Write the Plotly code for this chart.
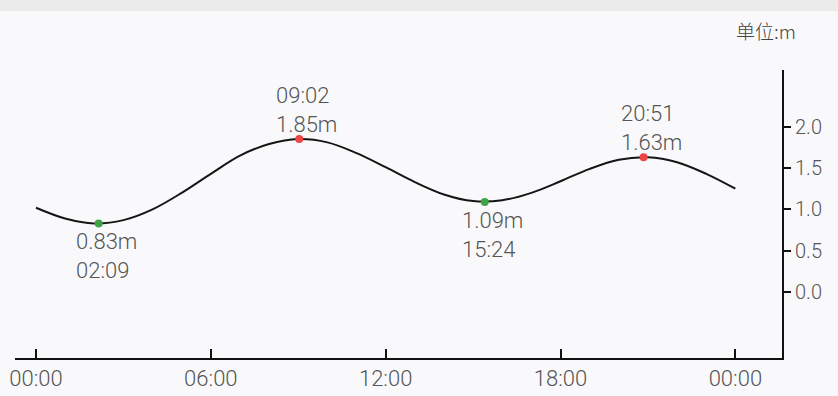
import plotly.graph_objects as go

# hourly tide heights (m)
hours = [0, 1, 2, 3, 4, 5, 6, 7, 8, 9, 10, 11, 12, 13, 14, 15, 16, 17, 18, 19, 20, 21, 22, 23, 24]
heights = [1.02, 0.89, 0.83, 0.87, 1.00, 1.20, 1.43, 1.65, 1.79, 1.85, 1.81, 1.68, 1.51, 1.33, 1.18, 1.10,
           1.11, 1.20, 1.34, 1.49, 1.60, 1.63, 1.57, 1.43, 1.25]

# extrema
low_times = [2 + 9 / 60, 15 + 24 / 60]
low_vals = [0.83, 1.09]
low_labels = ["02:09", "15:24"]
high_times = [9 + 2 / 60, 20 + 51 / 60]
high_vals = [1.85, 1.63]
high_labels = ["09:02", "20:51"]

x_ticks = [0, 6, 12, 18, 24]
x_tick_text = ["00:00", "06:00", "12:00", "18:00", "00:00"]
y_ticks = [0.0, 0.5, 1.0, 1.5, 2.0]
y_tick_text = ["0.0", "0.5", "1.0", "1.5", "2.0"]

FONT = "Roboto"
TXT = "#555555"

L, R, T, B = 15, 56, 70, 38
W, H = 838, 396
pw, ph = W - L - R, H - T - B

fig = go.Figure()
fig.add_trace(go.Scatter(x=hours, y=heights, mode="lines",
                         line=dict(color="#151515", width=2, shape="spline", smoothing=1.0),
                         hoverinfo="skip", showlegend=False))
fig.add_trace(go.Scatter(x=low_times, y=low_vals, mode="markers",
                         marker=dict(color="#3fa544", size=8), showlegend=False))
fig.add_trace(go.Scatter(x=high_times, y=high_vals, mode="markers",
                         marker=dict(color="#ee4444", size=8), showlegend=False))

annotations = []
for t, v, lab in zip(high_times, high_vals, high_labels):
    annotations.append(dict(x=t, y=v, xref="x", yref="y", text=f"{lab}<br>{v:.2f}m",
                            showarrow=False, xanchor="left", yanchor="bottom", align="left",
                            xshift=-25, yshift=0, font=dict(family=FONT, size=22, color=TXT, weight=300)))
for t, v, lab in zip(low_times, low_vals, low_labels):
    annotations.append(dict(x=t, y=v, xref="x", yref="y", text=f"{v:.2f}m<br>{lab}",
                            showarrow=False, xanchor="left", yanchor="top", align="left",
                            xshift=-25, yshift=-4, font=dict(family=FONT, size=22, color=TXT, weight=300)))
annotations.append(dict(x=(798 - L) / pw, y=((H - 31) - B) / ph, xref="paper", yref="paper",
                        text="单位:m", showarrow=False, xanchor="right", yanchor="middle",
                        font=dict(family="Noto Sans CJK SC", size=19, color="#444444", weight=300)))

fig.update_layout(
    width=W, height=H,
    margin=dict(l=L, r=R, t=T, b=B),
    paper_bgcolor="#f9f9fb",
    plot_bgcolor="#f9f9fb",
    annotations=annotations,
    shapes=[dict(type="rect", xref="paper", yref="paper",
                 x0=-L / pw - 0.01, x1=1 + R / pw + 0.01,
                 y0=1 + (T - 11) / ph, y1=1 + T / ph + 0.01,
                 fillcolor="#ebebeb", line=dict(width=0), layer="below")],
    xaxis=dict(range=[-0.72, 25.6], tickvals=x_ticks, ticktext=x_tick_text, automargin=False,
               showgrid=False, zeroline=False, showline=True, linecolor="#111111", linewidth=2,
               ticks="inside", ticklen=9, tickwidth=2, tickcolor="#111111",
               tickfont=dict(family=FONT, size=22, color=TXT, weight=300), fixedrange=True),
    yaxis=dict(range=[-0.797, 2.685], side="right", tickvals=y_ticks, ticktext=y_tick_text,
               automargin=False,
               showgrid=False, zeroline=False, showline=True, linecolor="#111111", linewidth=2,
               ticks="outside", ticklen=7, tickwidth=2, tickcolor="#111111",
               tickfont=dict(family=FONT, size=20, color=TXT, weight=300), fixedrange=True),
    showlegend=False,
)

fig.write_html("out.html")
